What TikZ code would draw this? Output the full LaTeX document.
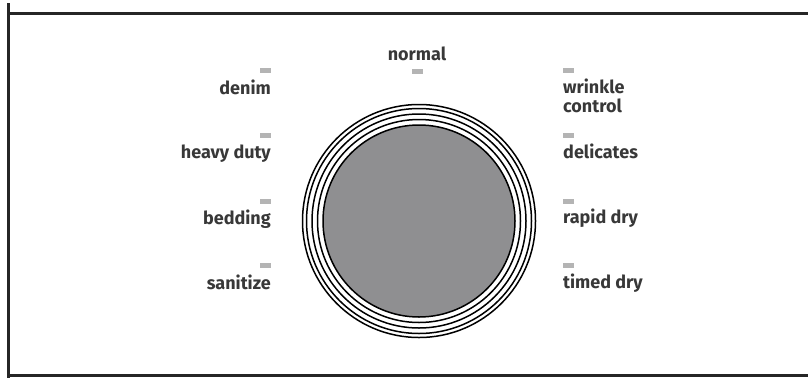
\documentclass[tikz,border=0pt]{standalone}
\usepackage{fontspec}
\setmainfont{Fira Sans}
\definecolor{txt}{HTML}{383838}
\definecolor{tickgray}{HTML}{B4B4B4}
\definecolor{diskgray}{HTML}{8F8F91}
\begin{document}
\begin{tikzpicture}[x=1pt,y=-1pt,
  lbl/.style={font=\fontsize{18}{19}\selectfont\bfseries, text=txt, inner sep=0pt},
  tickmark/.style={fill=tickgray, draw=none},
  ring/.style={draw=black, line width=1.5pt},
  frameline/.style={line width=3pt, draw=black!85}]
\useasboundingbox (0,0) rectangle (808,378);
% frame
\draw[frameline] (808,13) -- (8,13);
\draw[frameline] (8,3) -- (8,378);
\draw[frameline] (8,375) -- (808,375);
% dial
\coordinate (c) at (419,221);
\fill[diskgray] (c) circle (96);
\draw[ring] (c) circle (96);
\draw[ring] (c) circle (101.5);
\draw[ring] (c) circle (107);
\draw[ring] (c) circle (112.5);
\draw[ring] (c) circle (116.5);
% top
\node[lbl, anchor=base] (normal) at (417,60) {normal};
\fill[tickmark] (412,69) rectangle (423,74);
% left column
\node[lbl, anchor=base east] (denim) at (271,94) {denim};
\fill[tickmark] (260,68) rectangle (271,73);
\node[lbl, anchor=base east] (heavy) at (271,158) {heavy duty};
\fill[tickmark] (260,133) rectangle (271,138);
\node[lbl, anchor=base east] (bedding) at (271,224) {bedding};
\fill[tickmark] (260,199) rectangle (271,204);
\node[lbl, anchor=base east] (sanitize) at (271,289) {sanitize};
\fill[tickmark] (260,263) rectangle (271,268);
% right column
\node[lbl, anchor=base west] (wrinkle) at (563,93) {wrinkle};
\node[lbl, anchor=base west] (control) at (563,112) {control};
\fill[tickmark] (563,68) rectangle (574,73);
\node[lbl, anchor=base west] (delicates) at (563,158) {delicates};
\fill[tickmark] (563,133) rectangle (574,138);
\node[lbl, anchor=base west] (rapid) at (563,223) {rapid dry};
\fill[tickmark] (563,199) rectangle (574,204);
\node[lbl, anchor=base west] (timed) at (563,288) {timed dry};
\fill[tickmark] (563,263) rectangle (574,268);
\end{tikzpicture}
\end{document}
